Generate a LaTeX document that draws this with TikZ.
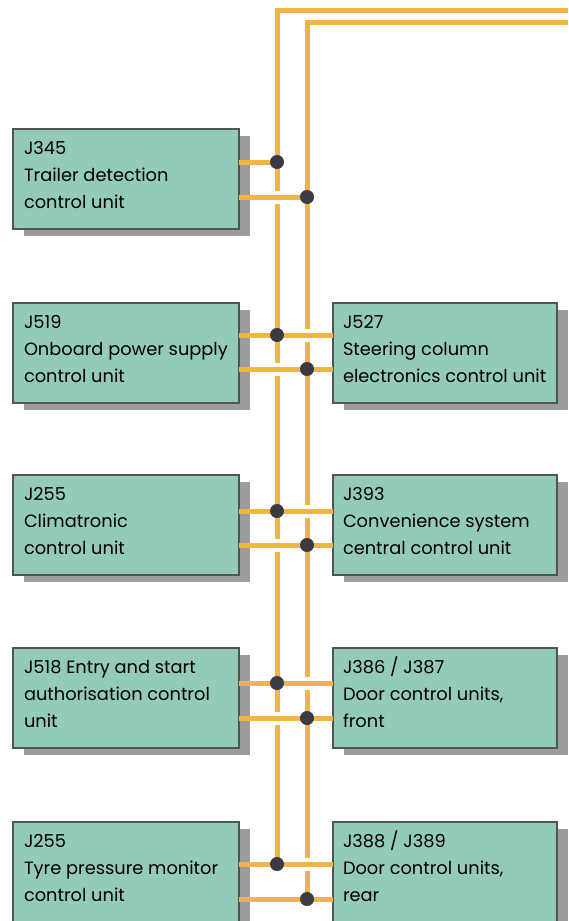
\documentclass[tikz,border=0pt]{standalone}
\usepackage{fontspec}
\setmainfont{Poppins}
\definecolor{unitfill}{HTML}{93CBB7}
\definecolor{unitedge}{HTML}{4C5753}
\definecolor{unitshadow}{HTML}{9C9C9C}
\definecolor{busline}{HTML}{F1B546}
\definecolor{joint}{HTML}{3A3A42}
\tikzset{
  unitbox/.style={draw=unitedge, line width=1.8pt, fill=unitfill, anchor=north west,
    minimum height=100pt, inner sep=0pt, outer sep=0pt},
  leftunit/.style={unitbox, minimum width=226pt},
  rightunit/.style={unitbox, minimum width=224pt},
  unitshade/.style={fill=unitshadow, draw=none},
  unittext/.style={anchor=base west, inner sep=0pt, outer sep=0pt, text=black},
  bus/.style={draw=busline, line width=5pt, line join=miter},
  hop/.style={draw=white, line width=13pt},
  jointdot/.style={circle, minimum size=14pt, inner sep=0pt, outer sep=0pt}
}
\newcommand{\unitlabel}[3]{\parbox[t]{220pt}{\fontsize{17.8pt}{27pt}\selectfont #1\\#2\\#3}}
\begin{document}
\begin{tikzpicture}[x=1pt,y=-1pt]
\useasboundingbox (0,0) rectangle (568,921);
\clip (0,0) rectangle (568,921);

% control unit boxes, left column
\foreach \t in {129,303,475,648,822}{
  \fill[unitshade] (24,\t+7) rectangle (250,\t+107);
}
\node[leftunit] (l1) at (13,129) {};
\node[leftunit] (l2) at (13,303) {};
\node[leftunit] (l3) at (13,475) {};
\node[leftunit] (l4) at (13,648) {};
\node[leftunit] (l5) at (13,822) {};

% control unit boxes, right column
\foreach \t in {303,475,648,822}{
  \fill[unitshade] (344,\t+7) rectangle (568,\t+107);
}
\node[rightunit] (r2) at (333,303) {};
\node[rightunit] (r3) at (333,475) {};
\node[rightunit] (r4) at (333,648) {};
\node[rightunit] (r5) at (333,822) {};

% labels
\node[unittext] (tl1) at ([shift={(11pt,-25pt)}]l1.north west) {\unitlabel{J345}{Trailer detection}{control unit}};
\node[unittext] (tl2) at ([shift={(11pt,-25pt)}]l2.north west) {\unitlabel{J519}{Onboard power supply}{control unit}};
\node[unittext] (tl3) at ([shift={(11pt,-25pt)}]l3.north west) {\unitlabel{J255}{Climatronic}{control unit}};
\node[unittext] (tl4) at ([shift={(11pt,-25pt)}]l4.north west) {\unitlabel{J518 Entry and start}{authorisation control}{unit}};
\node[unittext] (tl5) at ([shift={(11pt,-25pt)}]l5.north west) {\unitlabel{J255}{Tyre pressure monitor}{control unit}};
\node[unittext] (tr2) at ([shift={(10pt,-25pt)}]r2.north west) {\unitlabel{J527}{Steering column}{electronics control unit}};
\node[unittext] (tr3) at ([shift={(10pt,-25pt)}]r3.north west) {\unitlabel{J393}{Convenience system}{central control unit}};
\node[unittext] (tr4) at ([shift={(10pt,-25pt)}]r4.north west) {\unitlabel{J386 / J387}{Door control units,}{front}};
\node[unittext] (tr5) at ([shift={(10pt,-25pt)}]r5.north west) {\unitlabel{J388 / J389}{Door control units,}{rear}};

% bus junctions: a = outer wire (x=277), b = inner wire (x=307)
\coordinate (aend) at (568,10);
\coordinate (acorner) at (277,10);
\coordinate (bend) at (568,22);
\coordinate (bcorner) at (307,22);
\node[jointdot] (a1) at (277,162) {};
\node[jointdot] (b1) at (307,197) {};
\node[jointdot] (a2) at (277,335) {};
\node[jointdot] (b2) at (307,369) {};
\node[jointdot] (a3) at (277,511) {};
\node[jointdot] (b3) at (307,545) {};
\node[jointdot] (a4) at (277,683) {};
\node[jointdot] (b4) at (307,718) {};
\node[jointdot] (a5) at (277,864) {};
\node[jointdot] (b5) at (307,899) {};

% the two bus wires
\draw[bus] (aend) -- (acorner) -- (a5.center);
\draw[bus] (bend) -- (bcorner) -- (b5.center);

% breaks where a stub passes over the other wire
\foreach \i in {1,...,5}{
  \draw[hop] ([xshift=-4pt]b\i.center -| a1.center) -- ([xshift=4pt]b\i.center -| a1.center);
}
\foreach \i in {2,...,5}{
  \draw[hop] ([xshift=-4pt]a\i.center -| b1.center) -- ([xshift=4pt]a\i.center -| b1.center);
}

% stubs from the units to the bus
\draw[bus] (l1.east |- a1) -- (a1.center);
\draw[bus] (l1.east |- b1) -- (b1.center);
\foreach \i in {2,...,5}{
  \draw[bus] (l\i.east |- a\i) -- (r\i.west |- a\i);
  \draw[bus] (l\i.east |- b\i) -- (r\i.west |- b\i);
}

% junction dots on top
\foreach \i in {1,...,5}{
  \fill[joint] (a\i) circle (7pt);
  \fill[joint] (b\i) circle (7pt);
}
\end{tikzpicture}
\end{document}
